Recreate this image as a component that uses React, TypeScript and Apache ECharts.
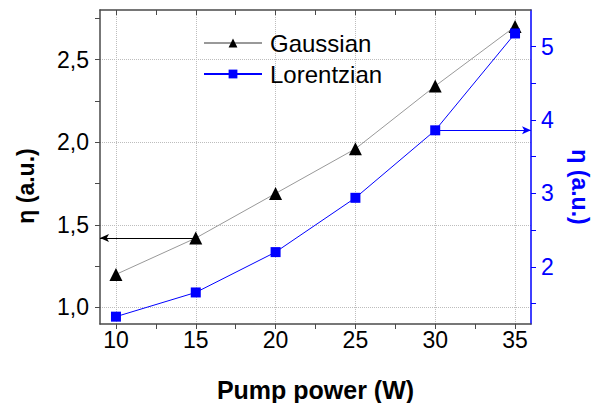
import React, { useEffect, useRef } from 'react';
import * as echarts from 'echarts';

const xValues = [10, 15, 20, 25, 30, 35];
const gaussian = [1.2, 1.42, 1.69, 1.96, 2.34, 2.7];
const lorentzian = [1.32, 1.65, 2.2, 2.94, 3.86, 5.18];

const xLabelValues = [10, 15, 20, 25, 30, 35];
const xTickValues = [10, 12.5, 15, 17.5, 20, 22.5, 25, 27.5, 30, 32.5, 35];
const leftLabelValues = [1.0, 1.5, 2.0, 2.5];
const leftTickValues = [1.0, 1.25, 1.5, 1.75, 2.0, 2.25, 2.5, 2.75];
const rightLabelValues = [2, 3, 4, 5];
const rightTickValues = [1.5, 2, 2.5, 3, 3.5, 4, 4.5, 5];

const seriesNames = ['Gaussian', 'Lorentzian'];
const axisTitleY = 'η (a.u.)';
const axisTitleX = 'Pump power (W)';

const FONT = '"Liberation Sans", Arial, Helvetica, sans-serif';

export default function App() {
  const ref = useRef<HTMLDivElement>(null);
  useEffect(() => {
    if (!ref.current) return;
    const chart = echarts.init(ref.current, undefined, { renderer: 'svg' });
    const axisColor = '#4a4a4a';
    const blue = '#0000ff';
    const gridStyle = { type: 'dotted', color: '#bdbdbd', width: 1 };
    const gridLines: any[] = [
      ...xLabelValues.map((v) => ({ xAxis: v, symbol: 'none', lineStyle: gridStyle })),
      ...leftLabelValues.map((v) => ({ yAxis: v, symbol: 'none', lineStyle: gridStyle })),
    ];
    const option: any = {
      animation: false,
      textStyle: { fontFamily: FONT },
      grid: { left: 100, top: 10, right: 70, bottom: 79, outerBoundsMode: 'none', containLabel: false },
      graphic: [
        {
          type: 'text',
          x: 26,
          y: 186,
          rotation: Math.PI / 2,
          style: {
            text: axisTitleY,
            fontFamily: FONT,
            fontSize: 23,
            fontWeight: 'bold',
            fill: '#000',
            align: 'center',
            verticalAlign: 'middle',
          },
        },
      ],
      legend: {
        data: seriesNames,
        orient: 'vertical',
        left: 203,
        top: 31,
        padding: 0,
        itemWidth: 58,
        itemHeight: 11,
        itemGap: 7,
        textStyle: { fontFamily: FONT, fontSize: 24, color: '#000', padding: [0, 0, 0, 3] },
      },
      xAxis: [
        {
          type: 'value',
          position: 'bottom',
          min: 9,
          max: 36,
          name: axisTitleX,
          nameLocation: 'middle',
          nameGap: 53,
          nameTextStyle: { fontFamily: FONT, fontSize: 25, fontWeight: 'bold', color: '#000' },
          axisLine: { show: true, lineStyle: { color: axisColor, width: 1.5 } },
          axisTick: { show: true, inside: false, length: 5, customValues: xTickValues, lineStyle: { color: axisColor } },
          axisLabel: {
            customValues: xLabelValues,
            fontFamily: FONT,
            fontSize: 23,
            color: '#000',
            margin: 4,
          },
          splitLine: { show: false },
        },
        {
          type: 'value',
          position: 'top',
          min: 9,
          max: 36,
          axisLine: { show: true, lineStyle: { color: axisColor, width: 1.5 } },
          axisTick: { show: true, inside: true, length: 5, customValues: xTickValues, lineStyle: { color: axisColor } },
          axisLabel: { show: false },
          splitLine: { show: false },
        },
      ],
      yAxis: [
        {
          type: 'value',
          position: 'left',
          min: 0.9,
          max: 2.8,
          axisLine: { show: true, lineStyle: { color: axisColor, width: 1.5 } },
          axisTick: { show: true, inside: false, length: 5, customValues: leftTickValues, lineStyle: { color: axisColor } },
          axisLabel: {
            customValues: leftLabelValues,
            fontFamily: FONT,
            fontSize: 23,
            color: '#000',
            margin: 11,
            formatter: (v: number) => v.toFixed(1).replace('.', ','),
          },
          splitLine: { show: false },
        },
        {
          type: 'value',
          position: 'right',
          min: 1.22,
          max: 5.5,
          name: axisTitleY,
          nameLocation: 'middle',
          nameGap: 37,
          nameRotate: -90,
          nameTextStyle: {
            fontFamily: FONT,
            fontSize: 23,
            fontWeight: 'bold',
            color: blue,
            padding: [0, 0, 0, 40],
          },
          axisLine: { show: true, lineStyle: { color: blue, width: 1.5 } },
          axisTick: { show: true, inside: false, length: 5, customValues: rightTickValues, lineStyle: { color: blue } },
          axisLabel: {
            customValues: rightLabelValues,
            fontFamily: FONT,
            fontSize: 23,
            color: blue,
            margin: 10,
          },
          splitLine: { show: false },
        },
      ],
      series: [
        {
          name: 'grid',
          type: 'line',
          xAxisIndex: 0,
          yAxisIndex: 0,
          data: [],
          silent: true,
          z: 0,
          markLine: {
            silent: true,
            symbol: 'none',
            label: { show: false },
            animation: false,
            z: 0,
            data: gridLines,
          },
        },
        {
          name: seriesNames[0],
          type: 'line',
          xAxisIndex: 0,
          yAxisIndex: 0,
          data: xValues.map((x, i) => [x, gaussian[i]]),
          symbol: 'triangle',
          symbolSize: 13,
          itemStyle: { color: '#000', borderColor: '#000', borderWidth: 0 },
          lineStyle: { color: '#999', width: 1 },
          z: 3,
          markLine: {
            silent: true,
            symbol: 'none',
            label: { show: false },
            animation: false,
            z: 2,
            data: [
              [
                { coord: [xValues[1], gaussian[1]], symbol: 'none', lineStyle: { color: '#000', width: 1, type: 'solid' } },
                { coord: [9, gaussian[1]], symbol: 'arrow', symbolSize: [6, 9] },
              ],
            ],
          },
        },
        {
          name: seriesNames[1],
          type: 'line',
          xAxisIndex: 0,
          yAxisIndex: 1,
          data: xValues.map((x, i) => [x, lorentzian[i]]),
          symbol: 'rect',
          symbolSize: 10,
          itemStyle: { color: blue, borderColor: blue, borderWidth: 0 },
          lineStyle: { color: blue, width: 1 },
          z: 4,
          markLine: {
            silent: true,
            symbol: 'none',
            label: { show: false },
            animation: false,
            z: 2,
            data: [
              [
                { coord: [xValues[4], lorentzian[4]], symbol: 'none', lineStyle: { color: blue, width: 1, type: 'solid' } },
                { coord: [36, lorentzian[4]], symbol: 'arrow', symbolSize: [6, 9] },
              ],
            ],
          },
        },
      ],
    };
    chart.setOption(option);
    return () => chart.dispose();
  }, []);
  return <div ref={ref} style={{ position: 'absolute', left: 0, top: 0, width: 601, height: 403 }} />;
}
